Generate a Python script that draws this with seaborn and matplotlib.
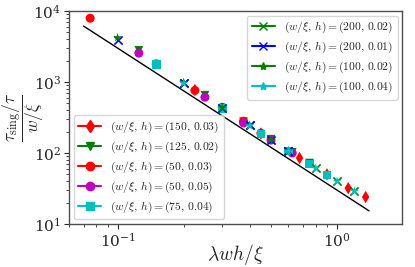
import numpy as np
import matplotlib
matplotlib.use("Agg")
import matplotlib.pyplot as plt
from matplotlib.lines import Line2D
import seaborn as sns

# data collapse: x = lambda*w*h/xi, y = (tau_sing/tau)/(w/xi)
x_150_003 = [0.225, 0.45, 0.675, 0.9, 1.125, 1.35]
y_150_003 = [770, 188, 85, 50, 32, 24]

x_125_002 = [0.125, 0.25, 0.375, 0.5, 0.625, 0.75]
y_125_002 = [2780, 650, 275, 156, 102, 72]

x_50_003 = [0.075, 0.15, 0.225, 0.3, 0.375, 0.45]
y_50_003 = [7900, 1800, 760, 440, 280, 190]

x_50_005 = [0.125, 0.25, 0.375, 0.5, 0.625, 0.75]
y_50_005 = [2550, 610, 265, 152, 100, 71]

x_75_004 = [0.15, 0.3, 0.45, 0.6, 0.75, 0.9]
y_75_004 = [1780, 425, 185, 107, 70, 49]

x_200_002 = [0.2, 0.4, 0.6, 0.8, 1.0, 1.2]
y_200_002 = [975, 245, 108, 62, 40, 29]

x_200_001 = [0.1, 0.2, 0.3, 0.4, 0.5, 0.6]
y_200_001 = [3950, 970, 430, 245, 152, 107]

x_100_002 = [0.1, 0.2, 0.3, 0.4, 0.5, 0.6]
y_100_002 = [4200, 990, 435, 248, 154, 108]

x_100_004 = [0.2, 0.4, 0.6, 0.8, 1.0, 1.2]
y_100_004 = [960, 242, 107, 61, 40, 29]

# guide line ~ 30 / x^2
x_fit = [0.07, 1.4]
y_fit = [30 / 0.07**2, 30 / 1.4**2]

sns.set_style("ticks")
plt.rcParams["mathtext.fontset"] = "cm"
plt.rcParams["font.family"] = ["DejaVu Serif"]
plt.rcParams["axes.edgecolor"] = "0.3"

fig = plt.figure(figsize=(4.15, 2.67), dpi=100)
ax = fig.add_axes([0.166, 0.161, 0.803, 0.798])

series_low = [
    (x_150_003, y_150_003, "r", "d", r"$(w/\xi,\,h)=(150,\,0.03)$"),
    (x_125_002, y_125_002, "g", "v", r"$(w/\xi,\,h)=(125,\,0.02)$"),
    (x_50_003, y_50_003, "r", "o", r"$(w/\xi,\,h)=(50,\,0.03)$"),
    (x_50_005, y_50_005, "m", "o", r"$(w/\xi,\,h)=(50,\,0.05)$"),
    (x_75_004, y_75_004, "c", "s", r"$(w/\xi,\,h)=(75,\,0.04)$"),
]
series_up = [
    (x_200_002, y_200_002, "g", "x", r"$(w/\xi,\,h)=(200,\,0.02)$"),
    (x_200_001, y_200_001, "b", "x", r"$(w/\xi,\,h)=(200,\,0.01)$"),
    (x_100_002, y_100_002, "g", "*", r"$(w/\xi,\,h)=(100,\,0.02)$"),
    (x_100_004, y_100_004, "c", "*", r"$(w/\xi,\,h)=(100,\,0.04)$"),
]

sizes = {"d": 40, "v": 40, "o": 42, "s": 40, "x": 35, "*": 45}
for xs, ys, c, m, lab in series_low + series_up:
    sns.scatterplot(x=xs, y=ys, color=c, marker=m, s=sizes[m], ax=ax,
                    linewidth=1.2 if m == "x" else 0, edgecolor=c if m == "x" else "none",
                    zorder=3)

sns.lineplot(x=x_fit, y=y_fit, color="k", linewidth=1.0, ax=ax, zorder=2)

ax.set_xscale("log")
ax.set_yscale("log")
ax.set_xlim(0.06, 1.98)
ax.set_ylim(10, 1e4)
ax.tick_params(which="major", length=3.5, width=0.8, labelsize=11, pad=2)
ax.tick_params(which="minor", length=2, width=0.6)
for s in ax.spines.values():
    s.set_linewidth(1.0)

ax.set_xlabel(r"$\lambda w h/\xi$", fontsize=14)
ax.xaxis.set_label_coords(0.5, -0.085)
ax.set_ylabel(r"$\dfrac{\tau_{\rm sing}/\tau}{w/\xi}$", fontsize=12.5)
ax.yaxis.set_label_coords(-0.07, 0.5)

def handles(series):
    return [Line2D([0], [0], color=c, marker=m, markersize=6,
                   linewidth=1.5, label=lab) for _, _, c, m, lab in series]

leg1 = ax.legend(handles=handles(series_low), loc="lower left", fontsize=8.3,
                 handlelength=2.0, labelspacing=0.4, borderaxespad=0.4)
ax.add_artist(leg1)
ax.legend(handles=handles(series_up), loc="upper right", fontsize=8.3,
          handlelength=2.0, labelspacing=0.4, borderaxespad=0.4)

fig.savefig("out.png", dpi=100)
